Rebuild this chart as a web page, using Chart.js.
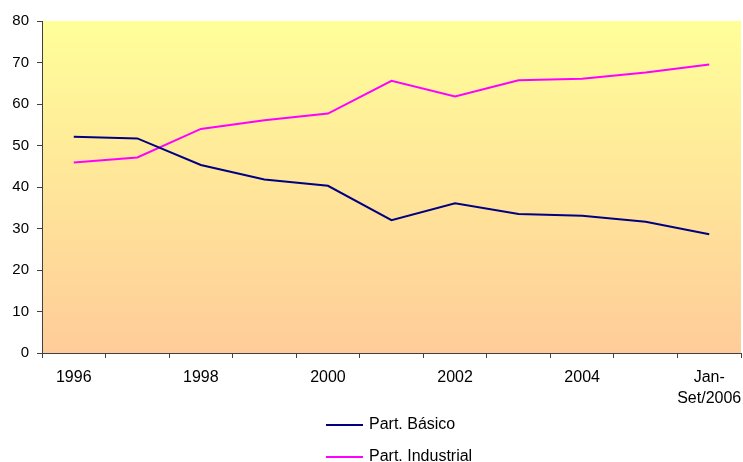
<!DOCTYPE html>
<html lang="pt">
<head>
    <meta charset="UTF-8">
    <title>Part. Básico x Part. Industrial</title>
    <script src="https://cdn.jsdelivr.net/npm/chart.js"></script>
    <style>
        body {
            margin: 0;
            background: #ffffff;
        }
        #grafico {
            display: block;
        }
    </style>
</head>
<body>

    <canvas id="grafico" width="743" height="462"></canvas>

    <script>
        // dados
        const anos = ["1996", "1997", "1998", "1999", "2000", "2001", "2002", "2003", "2004", "2005", ["Jan-", "Set/2006"]];
        const partBasico = [52.1, 51.7, 45.3, 41.8, 40.3, 32.0, 36.1, 33.5, 33.1, 31.6, 28.6];
        const partIndustrial = [45.9, 47.1, 54.0, 56.1, 57.7, 65.6, 61.8, 65.7, 66.1, 67.6, 69.5];
        const valoresEixoY = [0, 10, 20, 30, 40, 50, 60, 70, 80];

        const fonte = "Arial, 'Liberation Sans', sans-serif";

        // fundo em degradê da área do gráfico
        const fundoDegrade = {
            id: "fundoDegrade",
            beforeDraw(chart) {
                const { ctx, chartArea: a } = chart;
                const g = ctx.createLinearGradient(0, a.top, 0, a.bottom);
                g.addColorStop(0, "#FFFF99");
                g.addColorStop(1, "#FFCC99");
                ctx.save();
                ctx.fillStyle = g;
                ctx.fillRect(a.left, a.top, a.right - a.left, a.bottom - a.top);
                ctx.restore();
            }
        };

        // legenda empilhada embaixo, como no Excel
        const legendaVertical = {
            id: "legendaVertical",
            afterDraw(chart) {
                const ctx = chart.ctx;
                ctx.save();
                ctx.font = "16px " + fonte;
                ctx.textBaseline = "middle";
                chart.data.datasets.forEach((ds, i) => {
                    const y = 425 + i * 32;
                    ctx.strokeStyle = ds.borderColor;
                    ctx.lineWidth = 2;
                    ctx.beginPath();
                    ctx.moveTo(326, y);
                    ctx.lineTo(363, y);
                    ctx.stroke();
                    ctx.fillStyle = "#000000";
                    ctx.fillText(ds.label, 369, y);
                });
                ctx.restore();
            }
        };

        new Chart(document.getElementById("grafico"), {
            type: "line",
            data: {
                labels: anos,
                datasets: [{
                    label: "Part. Básico",
                    data: partBasico,
                    borderColor: "#000080",
                    borderWidth: 2,
                    pointRadius: 0,
                    tension: 0
                }, {
                    label: "Part. Industrial",
                    data: partIndustrial,
                    borderColor: "#FF00FF",
                    borderWidth: 2,
                    pointRadius: 0,
                    tension: 0
                }]
            },
            options: {
                responsive: false,
                animation: false,
                layout: {
                    padding: { top: 21, right: 2, left: 0, bottom: 0 }
                },
                plugins: {
                    legend: { display: false },
                    tooltip: { enabled: false }
                },
                scales: {
                    x: {
                        offset: true,
                        afterFit(scale) {
                            scale.height = 109;
                            scale.paddingLeft = 0;
                            scale.paddingRight = 0;
                        },
                        grid: {
                            offset: true,
                            drawOnChartArea: false,
                            tickLength: 5,
                            color: "#404040"
                        },
                        border: { color: "#404040", width: 1 },
                        ticks: {
                            autoSkip: false,
                            maxRotation: 0,
                            padding: 9,
                            color: "#000000",
                            font: { family: fonte, size: 16, lineHeight: 1.3 },
                            callback(v, i) { return i % 2 === 0 ? this.getLabelForValue(v) : ""; }
                        }
                    },
                    y: {
                        min: 0,
                        max: 80,
                        afterFit(scale) { scale.width = 42; },
                        afterBuildTicks(scale) { scale.ticks = valoresEixoY.map(v => ({ value: v })); },
                        grid: {
                            drawOnChartArea: false,
                            tickLength: 5,
                            color: "#404040"
                        },
                        border: { color: "#404040", width: 1 },
                        ticks: {
                            padding: 8,
                            color: "#000000",
                            font: { family: fonte, size: 15 }
                        }
                    }
                }
            },
            plugins: [fundoDegrade, legendaVertical]
        });
    </script>

</body>
</html>
